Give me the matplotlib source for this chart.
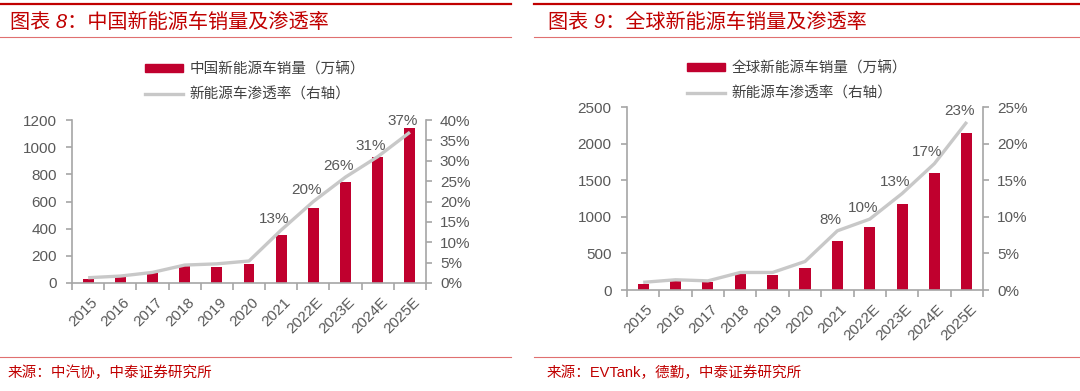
import matplotlib
matplotlib.use('Agg')
import matplotlib.pyplot as plt
from matplotlib.lines import Line2D
from matplotlib.patches import Rectangle
from matplotlib.ticker import FixedLocator, FuncFormatter

# ---------------- data ----------------
years = ['2015', '2016', '2017', '2018', '2019', '2020', '2021',
         '2022E', '2023E', '2024E', '2025E']

cn_sales = [33, 51, 77, 125, 121, 137, 352, 550, 740, 930, 1140]
cn_pen = [1.3, 1.7, 2.6, 4.4, 4.7, 5.4, 13.0, 20.0, 26.0, 31.0, 37.0]
cn_pen_labels = ['', '', '', '', '', '', '13%', '20%', '26%', '31%', '37%']

gl_sales = [82, 123, 110, 219, 210, 301, 666, 862, 1177, 1605, 2144]
gl_pen = [1.05, 1.4, 1.25, 2.4, 2.4, 3.9, 8.1, 9.7, 13.2, 17.3, 23.0]
gl_pen_labels = ['', '', '', '', '', '', '8%', '10%', '13%', '17%', '23%']

titles = ['图表 8：中国新能源车销量及渗透率', '图表 9：全球新能源车销量及渗透率']
bar_names = ['中国新能源车销量（万辆）', '全球新能源车销量（万辆）']
line_name = '新能源车渗透率（右轴）'
sources = ['来源：中汽协，中泰证券研究所', '来源：EVTank，德勤，中泰证券研究所']

# ---------------- style ----------------
W, H = 1080, 391
RED = '#C0002E'
HEAD_RED = '#C00000'
GRID_GRAY = '#A6A6A6'
TXT_GRAY = '#595959'
LINE_GRAY = '#C8C8C8'
FAM = ['Liberation Sans', 'Noto Sans CJK SC', 'DejaVu Sans']
CJK = ['Noto Sans CJK SC', 'DejaVu Sans']
plt.rcParams['font.family'] = FAM

fig = plt.figure(figsize=(W / 100, H / 100), dpi=100)


def fx(px):
    return px / W


def fy(py):
    return 1 - py / H


def panel(rect, sales, pen, pen_labels, ymax, ystep, pmax, pstep,
          title, bar_name, source, x0, x1, title_x, legend_x, legend_y, src_x):
    ax = fig.add_axes(rect)
    x = list(range(len(years)))
    ax.bar(x, sales, width=0.34, color=RED, zorder=2)
    ax.set_xlim(-0.5, len(years) - 0.5)
    ax.set_ylim(0, ymax)
    ax.yaxis.set_major_locator(FixedLocator(list(range(0, ymax + 1, ystep))))
    ax.set_xticks([i + 0.08 for i in x])
    ax.set_xticklabels(years, rotation=45, ha='right', va='top',
                       rotation_mode='anchor')
    ax.set_xticks([i - 0.5 for i in range(len(years) + 1)], minor=True)
    ax.tick_params(axis='x', which='major', length=0, pad=9,
                   labelsize=11, labelcolor=TXT_GRAY)
    ax.tick_params(axis='x', which='minor', length=5, width=1.2,
                   color=GRID_GRAY, direction='out')
    ax.tick_params(axis='y', length=4, width=1.2, color=GRID_GRAY,
                   labelsize=11, labelcolor=TXT_GRAY, pad=7)
    for s in ['top', 'right']:
        ax.spines[s].set_visible(False)
    for s in ['left', 'bottom']:
        ax.spines[s].set_color(GRID_GRAY)
        ax.spines[s].set_linewidth(1.2)

    ax2 = ax.twinx()
    ax2.plot(x, pen, color=LINE_GRAY, lw=2.4, solid_capstyle='butt')
    ax2.set_ylim(0, pmax)
    ax2.yaxis.set_major_locator(FixedLocator(list(range(0, pmax + 1, pstep))))
    ax2.yaxis.set_major_formatter(FuncFormatter(lambda v, p: f'{v:.0f}%'))
    ax2.tick_params(axis='y', length=4, width=1.2, color=GRID_GRAY,
                    labelsize=11, labelcolor=TXT_GRAY, pad=6)
    for s in ['top', 'left', 'bottom']:
        ax2.spines[s].set_visible(False)
    ax2.spines['right'].set_color(GRID_GRAY)
    ax2.spines['right'].set_linewidth(1.2)
    for xi, yi, lab in zip(x, pen, pen_labels):
        if lab:
            ax2.annotate(lab, (xi, yi), xytext=(-5, 3),
                         textcoords='offset points', ha='center', va='bottom',
                         fontsize=11, color=TXT_GRAY)

    handles = [Rectangle((0, 0), 1, 1, color=RED),
               Line2D([], [], color=LINE_GRAY, lw=2.4)]
    leg = ax.legend(handles, [bar_name, line_name], loc='upper left',
                    bbox_to_anchor=(fx(legend_x), fy(legend_y)),
                    bbox_transform=fig.transFigure, frameon=False,
                    prop={'family': CJK, 'size': 10.5}, handlelength=2.6,
                    handleheight=0.5, handletextpad=0.45, labelspacing=0.75,
                    borderpad=0, borderaxespad=0)
    for t in leg.get_texts():
        t.set_color('#404040')

    # header / footer decorations
    fig.add_artist(Line2D([fx(x0), fx(x1)], [fy(4), fy(4)], color=HEAD_RED, lw=1.6))
    fig.add_artist(Line2D([fx(x0), fx(x1)], [fy(37), fy(37)], color='#E07070', lw=0.8))
    fig.add_artist(Line2D([fx(x0), fx(x1)], [fy(357), fy(357)], color='#E07070', lw=0.8))
    fig.text(fx(title_x), fy(22), title, fontsize=14.5, color=HEAD_RED,
             va='center', ha='left', style='italic', family=FAM)
    fig.text(fx(src_x), fy(373), source, fontsize=10.5, color=HEAD_RED,
             va='center', ha='left', family=FAM)


panel([fx(72), fy(283), fx(426 - 72), (283 - 120) / H],
      cn_sales, cn_pen, cn_pen_labels, 1200, 200, 40, 5,
      titles[0], bar_names[0], sources[0], 0, 511, 10, 145, 62, 8)
panel([fx(627), fy(290), fx(983 - 627), (290 - 107.3) / H],
      gl_sales, gl_pen, gl_pen_labels, 2500, 500, 25, 5,
      titles[1], bar_names[1], sources[1], 534, 1080, 548, 687, 61, 547)

fig.savefig('out.png', dpi=100)
